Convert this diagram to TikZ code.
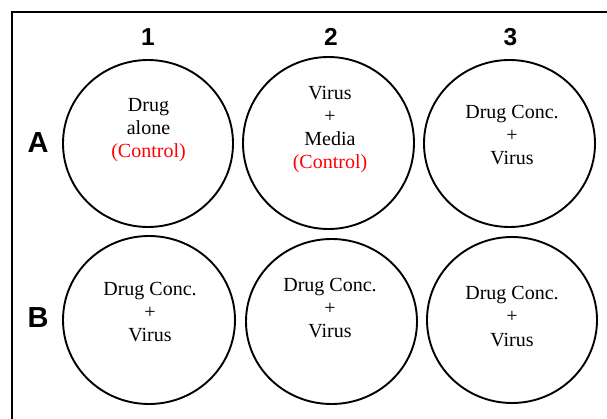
\documentclass[tikz,border=0pt]{standalone}
\usepackage{fontspec}
\setmainfont{Liberation Serif}
\setsansfont{Liberation Sans}
\usetikzlibrary{shapes.geometric}
\begin{document}
\begin{tikzpicture}[x=1pt,y=-1pt,
  well/.style={draw, line width=1.9pt, ellipse, inner sep=0pt},
  txt/.style={font=\fontsize{20}{23}\selectfont, anchor=base, inner sep=0pt},
  ctl/.style={txt, text=red},
  hdr/.style={font=\fontsize{24.5}{24.5}\selectfont\sffamily\bfseries, anchor=base, inner sep=0pt},
  rowhdr/.style={font=\fontsize{29}{29}\selectfont\sffamily\bfseries, anchor=base, inner sep=0pt},
  frame/.style={line width=2pt}]
\useasboundingbox (0,0) rectangle (607,419);
% frame
\coordinate (fbl) at (12,420);
\coordinate (ftl) at (12,12.5);
\coordinate (ftr) at (608,12.5);
\draw[frame] (fbl) -- (ftl) -- (ftr);
% column / row headers
\node[hdr] (c1) at (148,45.5) {1};
\node[hdr] (c2) at (331,45.5) {2};
\node[hdr] (c3) at (510.5,45.5) {3};
\node[rowhdr] (rA) at (38,153) {A};
\node[rowhdr] (rB) at (38,327.5) {B};
% wells
\node[well, minimum width=170pt, minimum height=167pt] (A1) at (148,143.5) {};
\node[well, minimum width=171pt, minimum height=172pt] (A2) at (328.5,143) {};
\node[well, minimum width=171pt, minimum height=167pt] (A3) at (509.5,143.5) {};
\node[well, minimum width=172pt, minimum height=168pt] (B1) at (149,320) {};
\node[well, minimum width=171pt, minimum height=165pt] (B2) at (331.5,321.5) {};
\node[well, minimum width=170pt, minimum height=166pt] (B3) at (512,320) {};
% texts A1
\node[txt] (A1a) at (148.5,112) {Drug};
\node[txt] (A1b) at (148.5,135) {alone};
\node[ctl] (A1c) at (148.5,158) {(Control)};
% texts A2
\node[txt] (A2a) at (330,100) {Virus};
\node[txt] (A2b) at (330,123) {+};
\node[txt] (A2c) at (330,146) {Media};
\node[ctl] (A2d) at (330,169) {(Control)};
% texts A3
\node[txt] (A3a) at (512,119) {Drug Conc.};
\node[txt] (A3b) at (512,142) {+};
\node[txt] (A3c) at (512,165) {Virus};
% texts B1
\node[txt] (B1a) at (150,295) {Drug Conc.};
\node[txt] (B1b) at (150,318) {+};
\node[txt] (B1c) at (150,341) {Virus};
% texts B2
\node[txt] (B2a) at (330,291) {Drug Conc.};
\node[txt] (B2b) at (330,314) {+};
\node[txt] (B2c) at (330,337) {Virus};
% texts B3
\node[txt] (B3a) at (512,300) {Drug Conc.};
\node[txt] (B3b) at (512,323) {+};
\node[txt] (B3c) at (512,346) {Virus};
\end{tikzpicture}
\end{document}
